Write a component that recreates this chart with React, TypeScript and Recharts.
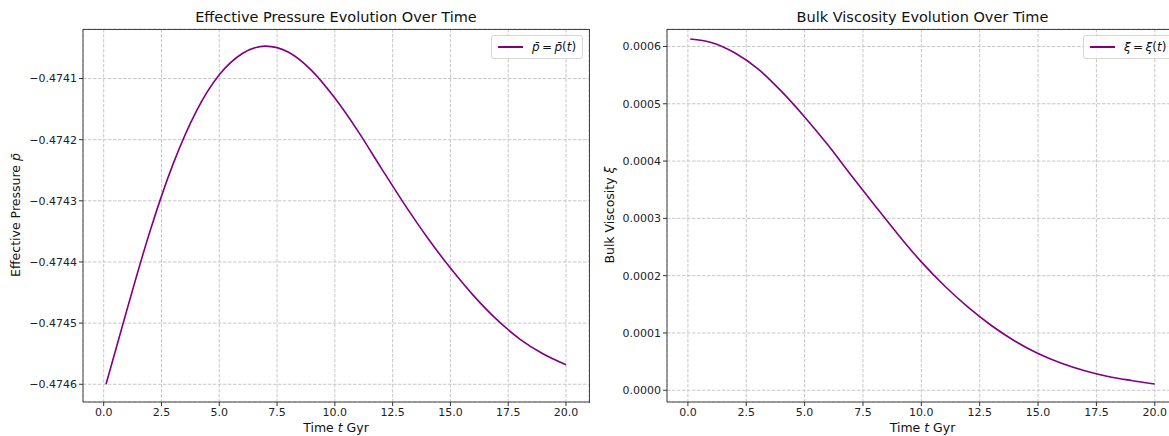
import React from "react";
import { CartesianGrid, Line, LineChart, XAxis, YAxis } from "recharts";

// values
const times = [0.1, 1, 2, 3, 4, 5, 6, 7, 8, 9, 10, 11, 12, 13, 14, 15, 16, 17, 18, 19, 20];
const pressureValues = [
  -0.4746, -0.474479, -0.47435, -0.47424, -0.474154, -0.474094, -0.474059, -0.474047, -0.474057,
  -0.474087, -0.474132, -0.474186, -0.474246, -0.474305, -0.47436, -0.47441, -0.474455, -0.474494,
  -0.474526, -0.47455, -0.474568,
];
const viscosityValues = [
  0.000613, 0.000607, 0.000589, 0.000561, 0.000522, 0.000477, 0.000428, 0.000375, 0.000323, 0.000272,
  0.000224, 0.000182, 0.000145, 0.000113, 0.000086, 0.000064, 0.000047, 0.000034, 0.000024, 0.000017,
  0.000011,
];
const timeTicks = [0, 2.5, 5, 7.5, 10, 12.5, 15, 17.5, 20];
const pressureTicks = [-0.4746, -0.4745, -0.4744, -0.4743, -0.4742, -0.4741];
const viscosityTicks = [0, 0.0001, 0.0002, 0.0003, 0.0004, 0.0005, 0.0006];

const FONT = '"DejaVu Sans", sans-serif';
const PURPLE = "#800080";
const SPINE = "#444";
const timeDomain: [number, number] = [-0.895, 20.995];

const fmt4 = (v: number) => v.toFixed(4).replace("-", "\u2212");
const fmt1 = (v: number) => v.toFixed(1);

type PanelProps = {
  left: number;
  right: number;
  title: string;
  values: number[];
  yDomain: [number, number];
  yTicks: number[];
  yLabel: React.ReactNode;
  yLabelX: number;
  legend: React.ReactNode;
  legendLeft: number;
};

function Panel({ left, right, title, values, yDomain, yTicks, yLabel, yLabelX, legend, legendLeft }: PanelProps) {
  const data = times.map((t, i) => ({ t, v: values[i] }));
  const plotLeft = 83;
  const plotRight = 600 - right;
  const centerX = (plotLeft + plotRight) / 2;
  return (
    <div style={{ position: "absolute", left, top: 0, width: 600, height: 436, fontFamily: FONT }}>
      <LineChart width={600} height={436} data={data} margin={{ top: 29, right, bottom: 0, left: 0 }}>
        <CartesianGrid stroke="#c8c8c8" strokeDasharray="3.5 1.5" />
        <XAxis
          dataKey="t"
          type="number"
          domain={timeDomain}
          ticks={timeTicks}
          tickFormatter={fmt1}
          allowDataOverflow
          height={34}
          tickSize={4}
          tickLine={{ stroke: "#333" }}
          axisLine={{ stroke: SPINE, strokeWidth: 1 }}
          tick={{ fontSize: 11, fill: "#222", fontFamily: FONT }}
        />
        <YAxis
          type="number"
          domain={yDomain}
          ticks={yTicks}
          tickFormatter={fmt4}
          allowDataOverflow
          width={83}
          tickSize={4}
          tickLine={{ stroke: "#333" }}
          axisLine={{ stroke: SPINE, strokeWidth: 1 }}
          tick={{ fontSize: 11, fill: "#222", fontFamily: FONT }}
        />
        <Line
          dataKey="v"
          type="monotone"
          stroke={PURPLE}
          strokeWidth={1.6}
          dot={false}
          isAnimationActive={false}
        />
      </LineChart>

      {/* top and right spines */}
      <div
        style={{
          position: "absolute",
          left: plotLeft,
          top: 28.5,
          width: plotRight - plotLeft,
          height: 373,
          borderTop: `1px solid ${SPINE}`,
          borderRight: `1px solid ${SPINE}`,
          pointerEvents: "none",
        }}
      />

      <div
        style={{
          position: "absolute",
          left: centerX - 250,
          width: 500,
          top: 9,
          textAlign: "center",
          fontSize: 14.5,
          color: "#111",
          whiteSpace: "nowrap",
        }}
      >
        {title}
      </div>
      <div
        style={{
          position: "absolute",
          left: centerX - 100,
          width: 200,
          top: 420,
          textAlign: "center",
          fontSize: 12.5,
          color: "#111",
        }}
      >
        Time <i>t</i> Gyr
      </div>
      <div
        style={{
          position: "absolute",
          left: yLabelX - 100,
          top: 215 - 9,
          width: 200,
          height: 18,
          textAlign: "center",
          fontSize: 12.5,
          color: "#111",
          transform: "rotate(-90deg)",
          whiteSpace: "nowrap",
        }}
      >
        {yLabel}
      </div>
      <div
        style={{
          position: "absolute",
          left: legendLeft,
          top: 35,
          width: 92,
          height: 24,
          boxSizing: "border-box",
          border: "1px solid #d6d6d6",
          borderRadius: 3,
          background: "rgba(255,255,255,0.8)",
          display: "flex",
          alignItems: "center",
          fontSize: 12,
          color: "#111",
          whiteSpace: "nowrap",
        }}
      >
        <div style={{ width: 25, height: 2, background: PURPLE, marginLeft: 6, marginRight: 9 }} />
        {legend}
      </div>
    </div>
  );
}

export default function App() {
  return (
    <div
      style={{
        position: "fixed",
        left: 0,
        top: 0,
        width: 1169,
        height: 436,
        overflow: "hidden",
        background: "#fff",
      }}
    >
      <Panel
        left={0}
        right={11}
        title="Effective Pressure Evolution Over Time"
        values={pressureValues}
        yDomain={[-0.474629, -0.474019]}
        yTicks={pressureTicks}
        yLabel={
          <span>
            Effective Pressure <i>p&#772;</i>
          </span>
        }
        yLabelX={17}
        legend={
          <span>
            <i>p&#772;</i>{"\u2009=\u2009"}<i>p&#772;</i>(<i>t</i>)
          </span>
        }
        legendLeft={491}
      />
      <Panel
        left={584}
        right={6}
        title="Bulk Viscosity Evolution Over Time"
        values={viscosityValues}
        yDomain={[-0.0000205, 0.0006305]}
        yTicks={viscosityTicks}
        yLabel={
          <span>
            Bulk Viscosity <i>ξ</i>
          </span>
        }
        yLabelX={27}
        legend={
          <span>
            <i>ξ</i>{"\u2009=\u2009"}<i>ξ</i>(<i>t</i>)
          </span>
        }
        legendLeft={499}
      />
    </div>
  );
}
